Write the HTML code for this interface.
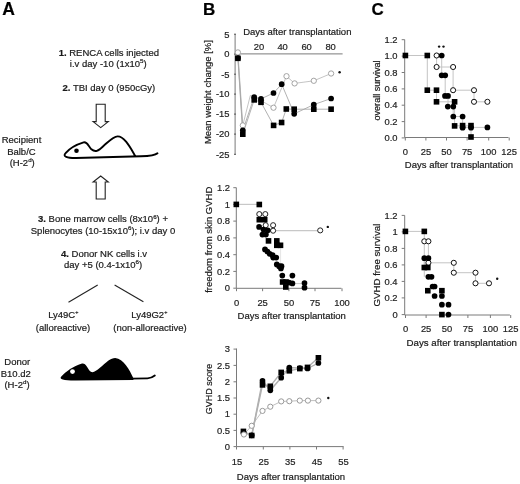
<!DOCTYPE html>
<html><head><meta charset="utf-8"><style>
html,body{margin:0;padding:0;background:#fff;}
body{width:520px;height:484px;overflow:hidden;}
svg{display:block;filter:blur(0.3px);font-family:"Liberation Sans",sans-serif;}
text{stroke:currentColor;stroke-width:0.2px;paint-order:stroke;}
</style></head><body>
<svg width="520" height="484" viewBox="0 0 520 484">
<rect width="520" height="484" fill="#fff"/>
<text x="2.3" y="15.0" font-size="17.5" text-anchor="start" font-weight="bold" fill="#000" style="color:#000" >A</text>
<text x="203.0" y="14.5" font-size="17.0" text-anchor="start" font-weight="bold" fill="#000" style="color:#000" >B</text>
<text x="371.5" y="14.6" font-size="17.0" text-anchor="start" font-weight="bold" fill="#000" style="color:#000" >C</text>
<text x="108.85" y="55.6" font-size="9.5" text-anchor="middle" font-weight="normal" fill="#1a1a1a" style="color:#1a1a1a" ><tspan font-weight="bold">1.</tspan> RENCA cells injected</text>
<text x="108.3" y="66.6" font-size="9.5" text-anchor="middle" font-weight="normal" fill="#1a1a1a" style="color:#1a1a1a" >i.v day -10 (1x10<tspan dy="-3.4" font-size="6.2">5</tspan><tspan dy="3.4">)</tspan></text>
<text x="108.9" y="91.2" font-size="9.5" text-anchor="middle" font-weight="normal" fill="#1a1a1a" style="color:#1a1a1a" ><tspan font-weight="bold">2.</tspan> TBI day 0 (950cGy)</text>
<path d="M96.2,104.2 L105.2,104.2 L105.2,121.6 L108.3,121.6 L100.7,127.6 L93.1,121.6 L96.2,121.6 Z" fill="#fff" stroke="#222" stroke-width="1.1" stroke-linejoin="miter"/>
<path d="M96.2,199.0 L105.2,199.0 L105.2,182.0 L108.3,182.0 L100.7,176.0 L93.1,182.0 L96.2,182.0 Z" fill="#fff" stroke="#222" stroke-width="1.1" stroke-linejoin="miter"/>
<path d="M157.5,153.3 C155,155.6 151,156.1 141,156.3 L76,158.0 C67,158.1 62.4,156.5 65.6,153.2 C69.5,148.5 77,144.4 83.6,142.4 C87.2,141.4 88.4,146.3 91.4,149.3 C95.3,152.6 98.2,151 103.2,146.2 C109,141.3 113,136.6 117.6,136.4 C124.5,136.3 130.5,148 135.4,156.2" fill="none" stroke="#000" stroke-width="1.9" stroke-linecap="round" stroke-linejoin="round"/>
<circle cx="76.5" cy="150.7" r="2.3" fill="#000"/>
<text x="21.5" y="143.4" font-size="9.5" text-anchor="middle" font-weight="normal" fill="#1a1a1a" style="color:#1a1a1a" >Recipient</text>
<text x="21.4" y="154.7" font-size="9.5" text-anchor="middle" font-weight="normal" fill="#1a1a1a" style="color:#1a1a1a" >Balb/C</text>
<text x="22.2" y="165.6" font-size="9.5" text-anchor="middle" font-weight="normal" fill="#1a1a1a" style="color:#1a1a1a" >(H-2<tspan dy="-3.4" font-size="6.2">d</tspan><tspan dy="3.4">)</tspan></text>
<text x="103.0" y="222.2" font-size="9.5" text-anchor="middle" font-weight="normal" fill="#1a1a1a" style="color:#1a1a1a" ><tspan font-weight="bold">3.</tspan> Bone marrow cells (8x10<tspan dy="-3.4" font-size="6.2">6</tspan><tspan dy="3.4">) +</tspan></text>
<text x="103.0" y="233.6" font-size="9.5" text-anchor="middle" font-weight="normal" fill="#1a1a1a" style="color:#1a1a1a" >Splenocytes (10-15x10<tspan dy="-3.4" font-size="6.2">6</tspan><tspan dy="3.4">); i.v day 0</tspan></text>
<text x="104.0" y="256.5" font-size="9.5" text-anchor="middle" font-weight="normal" fill="#1a1a1a" style="color:#1a1a1a" ><tspan font-weight="bold">4.</tspan> Donor NK cells i.v</text>
<text x="103.1" y="267.6" font-size="9.5" text-anchor="middle" font-weight="normal" fill="#1a1a1a" style="color:#1a1a1a" >day +5 (0.4-1x10<tspan dy="-3.4" font-size="6.2">6</tspan><tspan dy="3.4">)</tspan></text>
<line x1="68.5" y1="302.2" x2="97.7" y2="285.0" stroke="#222" stroke-width="1.1"/>
<line x1="114.6" y1="285.0" x2="143.4" y2="301.8" stroke="#222" stroke-width="1.1"/>
<text x="63.3" y="317.8" font-size="9.5" text-anchor="middle" font-weight="normal" fill="#1a1a1a" style="color:#1a1a1a" >Ly49C<tspan dy="-3.4" font-size="5.5">+</tspan><tspan dy="3.4"></tspan></text>
<text x="63.0" y="330.9" font-size="9.5" text-anchor="middle" font-weight="normal" fill="#1a1a1a" style="color:#1a1a1a" >(alloreactive)</text>
<text x="149.3" y="317.8" font-size="9.5" text-anchor="middle" font-weight="normal" fill="#1a1a1a" style="color:#1a1a1a" >Ly49G2<tspan dy="-3.4" font-size="5.5">+</tspan><tspan dy="3.4"></tspan></text>
<text x="150.0" y="330.9" font-size="9.5" text-anchor="middle" font-weight="normal" fill="#1a1a1a" style="color:#1a1a1a" >(non-alloreactive)</text>
<text x="17.3" y="365.4" font-size="9.5" text-anchor="middle" font-weight="normal" fill="#1a1a1a" style="color:#1a1a1a" >Donor</text>
<text x="15.8" y="376.8" font-size="9.5" text-anchor="middle" font-weight="normal" fill="#1a1a1a" style="color:#1a1a1a" >B10.d2</text>
<text x="17.0" y="387.8" font-size="9.5" text-anchor="middle" font-weight="normal" fill="#1a1a1a" style="color:#1a1a1a" >(H-2<tspan dy="-3.4" font-size="6.2">d</tspan><tspan dy="3.4">)</tspan></text>
<path d="M61.3,376.6 C65.5,371.5 74,365.8 81.3,363.7 C84,363.0 85.3,364.3 86.8,366.6 C88.6,369.5 90,372.2 92.5,372.2 C96.5,372 103,364.8 108.5,360.6 C110.8,359 113,358.1 115.2,358.1 C123.5,358.5 129.5,370 133.4,378.2 L133.4,380.0 L76,380.6 C64,380.7 58.5,379.4 61.3,376.6 Z" fill="#000"/>
<path d="M132,378.6 L147.5,378.4 C150.5,378.3 152.8,377.2 154.8,375.6" fill="none" stroke="#000" stroke-width="1.9" stroke-linecap="round"/>
<circle cx="72.5" cy="371.6" r="2.4" fill="#fff"/>
<line x1="235.1" y1="34.0" x2="235.1" y2="154.6" stroke="#7a7a7a" stroke-width="1.0"/>
<line x1="235.1" y1="53.9" x2="342.6" y2="53.9" stroke="#7a7a7a" stroke-width="1.0"/>
<text x="229.5" y="37.5" font-size="9.4" text-anchor="end" font-weight="normal" fill="#222" style="color:#222" >5</text>
<line x1="234.0" y1="34.2" x2="236.0" y2="34.2" stroke="#555" stroke-width="1.0"/>
<text x="229.5" y="57.4" font-size="9.4" text-anchor="end" font-weight="normal" fill="#222" style="color:#222" >0</text>
<line x1="234.0" y1="54.1" x2="236.0" y2="54.1" stroke="#555" stroke-width="1.0"/>
<text x="229.5" y="77.5" font-size="9.4" text-anchor="end" font-weight="normal" fill="#222" style="color:#222" >-5</text>
<line x1="234.0" y1="74.2" x2="236.0" y2="74.2" stroke="#555" stroke-width="1.0"/>
<text x="229.5" y="97.39999999999999" font-size="9.4" text-anchor="end" font-weight="normal" fill="#222" style="color:#222" >-10</text>
<line x1="234.0" y1="94.1" x2="236.0" y2="94.1" stroke="#555" stroke-width="1.0"/>
<text x="229.5" y="117.39999999999999" font-size="9.4" text-anchor="end" font-weight="normal" fill="#222" style="color:#222" >-15</text>
<line x1="234.0" y1="114.1" x2="236.0" y2="114.1" stroke="#555" stroke-width="1.0"/>
<text x="229.5" y="137.4" font-size="9.4" text-anchor="end" font-weight="normal" fill="#222" style="color:#222" >-20</text>
<line x1="234.0" y1="134.1" x2="236.0" y2="134.1" stroke="#555" stroke-width="1.0"/>
<text x="229.5" y="157.60000000000002" font-size="9.4" text-anchor="end" font-weight="normal" fill="#222" style="color:#222" >-25</text>
<line x1="234.0" y1="154.3" x2="236.0" y2="154.3" stroke="#555" stroke-width="1.0"/>
<text x="258.9" y="50.2" font-size="9.4" text-anchor="middle" font-weight="normal" fill="#222" style="color:#222" >20</text>
<text x="282.6" y="50.2" font-size="9.4" text-anchor="middle" font-weight="normal" fill="#222" style="color:#222" >40</text>
<text x="306.6" y="50.2" font-size="9.4" text-anchor="middle" font-weight="normal" fill="#222" style="color:#222" >60</text>
<text x="330.6" y="50.2" font-size="9.4" text-anchor="middle" font-weight="normal" fill="#222" style="color:#222" >80</text>
<text x="297.3" y="35.0" font-size="9.5" text-anchor="middle" font-weight="normal" fill="#1a1a1a" style="color:#1a1a1a" >Days after transplantation</text>
<text x="0" y="0" font-size="9.5" text-anchor="middle" fill="#1a1a1a" style="color:#1a1a1a" transform="translate(210.8,92.1) rotate(-90)">Mean weight change [%]</text>
<path d="M237.9,52.4 L242.8,125.4 L250.3,95.5 L261.0,100.6 L273.5,107.7 L286.5,76.2 L294.6,83.4 L313.8,80.8 L331.1,73.5" fill="none" stroke="#bdbdbd" stroke-width="0.9"/>
<path d="M238.0,58.0 L242.8,130.3 L254.2,97.0 L261.0,98.9 L273.5,93.0 L281.7,84.2 L294.2,113.8 L313.8,104.6 L331.1,98.5" fill="none" stroke="#a8a8a8" stroke-width="0.9"/>
<path d="M237.9,58.3 L242.8,134.2 L254.2,99.9 L261.0,102.3 L273.6,125.4 L281.6,122.5 L286.3,109.0 L294.2,109.2 L313.8,109.2 L331.1,109.2" fill="none" stroke="#a8a8a8" stroke-width="0.9"/>
<circle cx="237.9" cy="52.4" r="2.65" fill="#fff" stroke="#9a9a9a" stroke-width="0.9"/>
<circle cx="242.8" cy="125.4" r="2.65" fill="#fff" stroke="#9a9a9a" stroke-width="0.9"/>
<circle cx="261.0" cy="100.6" r="2.65" fill="#fff" stroke="#9a9a9a" stroke-width="0.9"/>
<circle cx="273.5" cy="107.7" r="2.65" fill="#fff" stroke="#9a9a9a" stroke-width="0.9"/>
<circle cx="286.5" cy="76.2" r="2.65" fill="#fff" stroke="#9a9a9a" stroke-width="0.9"/>
<circle cx="294.6" cy="83.4" r="2.65" fill="#fff" stroke="#9a9a9a" stroke-width="0.9"/>
<circle cx="313.8" cy="80.8" r="2.65" fill="#fff" stroke="#9a9a9a" stroke-width="0.9"/>
<circle cx="331.1" cy="73.5" r="2.65" fill="#fff" stroke="#9a9a9a" stroke-width="0.9"/>
<circle cx="238.0" cy="58.0" r="2.85" fill="#000"/>
<circle cx="242.8" cy="130.3" r="2.85" fill="#000"/>
<circle cx="254.2" cy="97.0" r="2.85" fill="#000"/>
<circle cx="261.0" cy="98.9" r="2.85" fill="#000"/>
<circle cx="273.5" cy="93.0" r="2.85" fill="#000"/>
<circle cx="281.7" cy="84.2" r="2.85" fill="#000"/>
<circle cx="294.2" cy="113.8" r="2.85" fill="#000"/>
<circle cx="313.8" cy="104.6" r="2.85" fill="#000"/>
<circle cx="331.1" cy="98.5" r="2.85" fill="#000"/>
<rect x="235.10" y="55.50" width="5.6" height="5.6" fill="#000"/>
<rect x="240.00" y="131.40" width="5.6" height="5.6" fill="#000"/>
<rect x="251.40" y="97.10" width="5.6" height="5.6" fill="#000"/>
<rect x="258.20" y="99.50" width="5.6" height="5.6" fill="#000"/>
<rect x="270.80" y="122.60" width="5.6" height="5.6" fill="#000"/>
<rect x="278.80" y="119.70" width="5.6" height="5.6" fill="#000"/>
<rect x="283.50" y="106.20" width="5.6" height="5.6" fill="#000"/>
<rect x="291.40" y="106.40" width="5.6" height="5.6" fill="#000"/>
<rect x="311.00" y="106.40" width="5.6" height="5.6" fill="#000"/>
<rect x="328.30" y="106.40" width="5.6" height="5.6" fill="#000"/>
<circle cx="339.6" cy="72.2" r="1.2" fill="#111"/>
<line x1="236.3" y1="187.6" x2="236.3" y2="288.3" stroke="#7a7a7a" stroke-width="1.0"/>
<line x1="236.3" y1="288.3" x2="341.4" y2="288.3" stroke="#7a7a7a" stroke-width="1.0"/>
<text x="230.0" y="190.89999999999998" font-size="9.4" text-anchor="end" font-weight="normal" fill="#222" style="color:#222" >1.2</text>
<line x1="233.3" y1="187.7" x2="236.3" y2="187.7" stroke="#7a7a7a" stroke-width="1.0"/>
<text x="230.0" y="207.6" font-size="9.4" text-anchor="end" font-weight="normal" fill="#222" style="color:#222" >1</text>
<line x1="233.3" y1="204.4" x2="236.3" y2="204.4" stroke="#7a7a7a" stroke-width="1.0"/>
<text x="230.0" y="224.29999999999998" font-size="9.4" text-anchor="end" font-weight="normal" fill="#222" style="color:#222" >0.8</text>
<line x1="233.3" y1="221.1" x2="236.3" y2="221.1" stroke="#7a7a7a" stroke-width="1.0"/>
<text x="230.0" y="241.1" font-size="9.4" text-anchor="end" font-weight="normal" fill="#222" style="color:#222" >0.6</text>
<line x1="233.3" y1="237.9" x2="236.3" y2="237.9" stroke="#7a7a7a" stroke-width="1.0"/>
<text x="230.0" y="257.9" font-size="9.4" text-anchor="end" font-weight="normal" fill="#222" style="color:#222" >0.4</text>
<line x1="233.3" y1="254.7" x2="236.3" y2="254.7" stroke="#7a7a7a" stroke-width="1.0"/>
<text x="230.0" y="274.59999999999997" font-size="9.4" text-anchor="end" font-weight="normal" fill="#222" style="color:#222" >0.2</text>
<line x1="233.3" y1="271.4" x2="236.3" y2="271.4" stroke="#7a7a7a" stroke-width="1.0"/>
<text x="230.0" y="291.4" font-size="9.4" text-anchor="end" font-weight="normal" fill="#222" style="color:#222" >0</text>
<line x1="233.3" y1="288.2" x2="236.3" y2="288.2" stroke="#7a7a7a" stroke-width="1.0"/>
<text x="236.5" y="305.9" font-size="9.4" text-anchor="middle" font-weight="normal" fill="#222" style="color:#222" >0</text>
<line x1="236.5" y1="288.3" x2="236.5" y2="291.2" stroke="#7a7a7a" stroke-width="1.0"/>
<text x="262.6" y="305.9" font-size="9.4" text-anchor="middle" font-weight="normal" fill="#222" style="color:#222" >25</text>
<line x1="262.6" y1="288.3" x2="262.6" y2="291.2" stroke="#7a7a7a" stroke-width="1.0"/>
<text x="288.9" y="305.9" font-size="9.4" text-anchor="middle" font-weight="normal" fill="#222" style="color:#222" >50</text>
<line x1="288.9" y1="288.3" x2="288.9" y2="291.2" stroke="#7a7a7a" stroke-width="1.0"/>
<text x="315.0" y="305.9" font-size="9.4" text-anchor="middle" font-weight="normal" fill="#222" style="color:#222" >75</text>
<line x1="315.0" y1="288.3" x2="315.0" y2="291.2" stroke="#7a7a7a" stroke-width="1.0"/>
<text x="342.0" y="305.9" font-size="9.4" text-anchor="middle" font-weight="normal" fill="#222" style="color:#222" >100</text>
<line x1="342.0" y1="288.3" x2="342.0" y2="291.2" stroke="#7a7a7a" stroke-width="1.0"/>
<text x="291.7" y="319.3" font-size="9.5" text-anchor="middle" font-weight="normal" fill="#1a1a1a" style="color:#1a1a1a" >Days after transplantation</text>
<text x="0" y="0" font-size="9.5" text-anchor="middle" fill="#1a1a1a" style="color:#1a1a1a" transform="translate(212.2,239.8) rotate(-90)">freedom from skin GVHD</text>
<path d="M236.3,204.4 L259.3,204.4" fill="none" stroke="#c8c8c8" stroke-width="1.2"/>
<path d="M273.1,230.6 L320.2,230.6" fill="none" stroke="#c8c8c8" stroke-width="1.2"/>
<path d="M292.4,283.6 L304.5,283.6" fill="none" stroke="#c8c8c8" stroke-width="1.0"/>
<path d="M280.6,245.0 L280.6,268.0" fill="none" stroke="#dddddd" stroke-width="0.8"/>
<circle cx="259.3" cy="214.1" r="2.55" fill="#fff" stroke="#222" stroke-width="1.0"/>
<circle cx="265.3" cy="214.1" r="2.55" fill="#fff" stroke="#222" stroke-width="1.0"/>
<circle cx="265.7" cy="225.2" r="2.55" fill="#fff" stroke="#222" stroke-width="1.0"/>
<circle cx="273.1" cy="225.2" r="2.55" fill="#fff" stroke="#222" stroke-width="1.0"/>
<circle cx="273.1" cy="230.7" r="2.55" fill="#fff" stroke="#222" stroke-width="1.0"/>
<circle cx="320.2" cy="230.4" r="2.55" fill="#fff" stroke="#222" stroke-width="1.0"/>
<circle cx="259.1" cy="226.9" r="2.85" fill="#000"/>
<circle cx="263.5" cy="229.5" r="2.85" fill="#000"/>
<circle cx="267.8" cy="230.3" r="2.85" fill="#000"/>
<circle cx="262.4" cy="234.6" r="2.85" fill="#000"/>
<circle cx="265.9" cy="234.6" r="2.85" fill="#000"/>
<circle cx="265.0" cy="249.4" r="2.85" fill="#000"/>
<circle cx="267.4" cy="251.5" r="2.85" fill="#000"/>
<circle cx="269.7" cy="253.8" r="2.85" fill="#000"/>
<circle cx="272.6" cy="255.2" r="2.85" fill="#000"/>
<circle cx="273.2" cy="257.6" r="2.85" fill="#000"/>
<circle cx="276.2" cy="257.6" r="2.85" fill="#000"/>
<circle cx="276.8" cy="264.4" r="2.85" fill="#000"/>
<circle cx="279.1" cy="266.2" r="2.85" fill="#000"/>
<circle cx="281.5" cy="266.2" r="2.85" fill="#000"/>
<circle cx="280.9" cy="268.5" r="2.85" fill="#000"/>
<circle cx="282.3" cy="275.6" r="2.85" fill="#000"/>
<circle cx="292.4" cy="275.6" r="2.85" fill="#000"/>
<circle cx="289.1" cy="282.6" r="2.85" fill="#000"/>
<circle cx="292.4" cy="283.4" r="2.85" fill="#000"/>
<circle cx="304.5" cy="283.1" r="2.85" fill="#000"/>
<circle cx="304.5" cy="287.7" r="2.85" fill="#000"/>
<rect x="233.50" y="201.60" width="5.6" height="5.6" fill="#000"/>
<rect x="256.50" y="201.70" width="5.6" height="5.6" fill="#000"/>
<rect x="256.50" y="216.90" width="5.6" height="5.6" fill="#000"/>
<rect x="261.90" y="216.90" width="5.6" height="5.6" fill="#000"/>
<rect x="265.70" y="238.10" width="5.6" height="5.6" fill="#000"/>
<rect x="274.00" y="238.10" width="5.6" height="5.6" fill="#000"/>
<rect x="274.00" y="242.50" width="5.6" height="5.6" fill="#000"/>
<rect x="277.70" y="242.50" width="5.6" height="5.6" fill="#000"/>
<rect x="279.80" y="279.20" width="5.6" height="5.6" fill="#000"/>
<rect x="283.20" y="279.20" width="5.6" height="5.6" fill="#000"/>
<rect x="283.00" y="284.20" width="5.6" height="5.6" fill="#000"/>
<circle cx="327.8" cy="226.9" r="1.2" fill="#111"/>
<line x1="236.5" y1="348.5" x2="236.5" y2="446.6" stroke="#7a7a7a" stroke-width="1.0"/>
<line x1="236.5" y1="446.6" x2="343.6" y2="446.6" stroke="#7a7a7a" stroke-width="1.0"/>
<text x="230.0" y="352.3" font-size="9.4" text-anchor="end" font-weight="normal" fill="#222" style="color:#222" >3</text>
<line x1="233.5" y1="349.1" x2="236.5" y2="349.1" stroke="#7a7a7a" stroke-width="1.0"/>
<text x="230.0" y="368.59999999999997" font-size="9.4" text-anchor="end" font-weight="normal" fill="#222" style="color:#222" >2.5</text>
<line x1="233.5" y1="365.4" x2="236.5" y2="365.4" stroke="#7a7a7a" stroke-width="1.0"/>
<text x="230.0" y="385.0" font-size="9.4" text-anchor="end" font-weight="normal" fill="#222" style="color:#222" >2</text>
<line x1="233.5" y1="381.8" x2="236.5" y2="381.8" stroke="#7a7a7a" stroke-width="1.0"/>
<text x="230.0" y="401.2" font-size="9.4" text-anchor="end" font-weight="normal" fill="#222" style="color:#222" >1.5</text>
<line x1="233.5" y1="398.0" x2="236.5" y2="398.0" stroke="#7a7a7a" stroke-width="1.0"/>
<text x="230.0" y="417.4" font-size="9.4" text-anchor="end" font-weight="normal" fill="#222" style="color:#222" >1</text>
<line x1="233.5" y1="414.2" x2="236.5" y2="414.2" stroke="#7a7a7a" stroke-width="1.0"/>
<text x="230.0" y="433.59999999999997" font-size="9.4" text-anchor="end" font-weight="normal" fill="#222" style="color:#222" >0.5</text>
<line x1="233.5" y1="430.4" x2="236.5" y2="430.4" stroke="#7a7a7a" stroke-width="1.0"/>
<text x="230.0" y="449.8" font-size="9.4" text-anchor="end" font-weight="normal" fill="#222" style="color:#222" >0</text>
<line x1="233.5" y1="446.6" x2="236.5" y2="446.6" stroke="#7a7a7a" stroke-width="1.0"/>
<text x="236.9" y="464.8" font-size="9.4" text-anchor="middle" font-weight="normal" fill="#222" style="color:#222" >15</text>
<line x1="236.5" y1="446.6" x2="236.5" y2="449.5" stroke="#7a7a7a" stroke-width="1.0"/>
<text x="263.7" y="464.8" font-size="9.4" text-anchor="middle" font-weight="normal" fill="#222" style="color:#222" >25</text>
<line x1="263.3" y1="446.6" x2="263.3" y2="449.5" stroke="#7a7a7a" stroke-width="1.0"/>
<text x="290.29999999999995" y="464.8" font-size="9.4" text-anchor="middle" font-weight="normal" fill="#222" style="color:#222" >35</text>
<line x1="289.9" y1="446.6" x2="289.9" y2="449.5" stroke="#7a7a7a" stroke-width="1.0"/>
<text x="316.9" y="464.8" font-size="9.4" text-anchor="middle" font-weight="normal" fill="#222" style="color:#222" >45</text>
<line x1="316.5" y1="446.6" x2="316.5" y2="449.5" stroke="#7a7a7a" stroke-width="1.0"/>
<text x="343.5" y="464.8" font-size="9.4" text-anchor="middle" font-weight="normal" fill="#222" style="color:#222" >55</text>
<line x1="343.1" y1="446.6" x2="343.1" y2="449.5" stroke="#7a7a7a" stroke-width="1.0"/>
<text x="291.0" y="479.5" font-size="9.5" text-anchor="middle" font-weight="normal" fill="#1a1a1a" style="color:#1a1a1a" >Days after transplantation</text>
<text x="0" y="0" font-size="9.0" text-anchor="middle" fill="#1a1a1a" style="color:#1a1a1a" transform="translate(211.5,389.0) rotate(-90)">GVHD score</text>
<path d="M243.9,434.5 L251.7,425.8 L262.5,410.9 L270.3,406.7 L281.2,401.4 L289.3,401.2 L299.8,400.6 L307.9,400.6 L318.4,400.6" fill="none" stroke="#c0c0c0" stroke-width="1.0"/>
<path d="M243.6,432.5 L251.7,435.3 L262.5,380.9 L270.3,390.3 L281.2,377.7 L289.3,367.6 L299.8,368.0 L307.5,368.5 L318.4,363.0" fill="none" stroke="#b0b0b0" stroke-width="1.4"/>
<path d="M243.4,431.4 L251.7,435.5 L262.5,384.9 L270.3,386.3 L281.2,372.4 L289.3,370.8 L299.8,368.6 L307.5,367.4 L318.4,357.8" fill="none" stroke="#b0b0b0" stroke-width="1.4"/>
<circle cx="243.6" cy="432.5" r="2.85" fill="#000"/>
<circle cx="251.7" cy="435.3" r="2.85" fill="#000"/>
<circle cx="262.5" cy="380.9" r="2.85" fill="#000"/>
<circle cx="270.3" cy="390.3" r="2.85" fill="#000"/>
<circle cx="281.2" cy="377.7" r="2.85" fill="#000"/>
<circle cx="289.3" cy="367.6" r="2.85" fill="#000"/>
<circle cx="299.8" cy="368.0" r="2.85" fill="#000"/>
<circle cx="307.5" cy="368.5" r="2.85" fill="#000"/>
<circle cx="318.4" cy="363.0" r="2.85" fill="#000"/>
<rect x="240.60" y="428.60" width="5.6" height="5.6" fill="#000"/>
<rect x="248.90" y="432.70" width="5.6" height="5.6" fill="#000"/>
<rect x="259.70" y="382.10" width="5.6" height="5.6" fill="#000"/>
<rect x="267.50" y="383.50" width="5.6" height="5.6" fill="#000"/>
<rect x="278.40" y="369.60" width="5.6" height="5.6" fill="#000"/>
<rect x="286.50" y="368.00" width="5.6" height="5.6" fill="#000"/>
<rect x="297.00" y="365.80" width="5.6" height="5.6" fill="#000"/>
<rect x="304.70" y="364.60" width="5.6" height="5.6" fill="#000"/>
<rect x="315.60" y="355.00" width="5.6" height="5.6" fill="#000"/>
<circle cx="243.9" cy="434.5" r="2.6" fill="#fff" stroke="#999" stroke-width="1.0"/>
<circle cx="251.7" cy="425.8" r="2.6" fill="#fff" stroke="#999" stroke-width="1.0"/>
<circle cx="262.5" cy="410.9" r="2.6" fill="#fff" stroke="#999" stroke-width="1.0"/>
<circle cx="270.3" cy="406.7" r="2.6" fill="#fff" stroke="#999" stroke-width="1.0"/>
<circle cx="281.2" cy="401.4" r="2.6" fill="#fff" stroke="#999" stroke-width="1.0"/>
<circle cx="289.3" cy="401.2" r="2.6" fill="#fff" stroke="#999" stroke-width="1.0"/>
<circle cx="299.8" cy="400.6" r="2.6" fill="#fff" stroke="#999" stroke-width="1.0"/>
<circle cx="307.9" cy="400.6" r="2.6" fill="#fff" stroke="#999" stroke-width="1.0"/>
<circle cx="318.4" cy="400.6" r="2.6" fill="#fff" stroke="#999" stroke-width="1.0"/>
<circle cx="328.3" cy="398.0" r="1.2" fill="#111"/>
<line x1="404.7" y1="39.6" x2="404.7" y2="137.5" stroke="#7a7a7a" stroke-width="1.0"/>
<line x1="404.7" y1="137.5" x2="508.5" y2="137.5" stroke="#7a7a7a" stroke-width="1.0"/>
<text x="397.6" y="42.900000000000006" font-size="9.4" text-anchor="end" font-weight="normal" fill="#222" style="color:#222" >1.2</text>
<line x1="401.7" y1="39.7" x2="404.7" y2="39.7" stroke="#7a7a7a" stroke-width="1.0"/>
<text x="397.6" y="59.300000000000004" font-size="9.4" text-anchor="end" font-weight="normal" fill="#222" style="color:#222" >1.0</text>
<line x1="401.7" y1="56.1" x2="404.7" y2="56.1" stroke="#7a7a7a" stroke-width="1.0"/>
<text x="397.6" y="75.7" font-size="9.4" text-anchor="end" font-weight="normal" fill="#222" style="color:#222" >0.8</text>
<line x1="401.7" y1="72.5" x2="404.7" y2="72.5" stroke="#7a7a7a" stroke-width="1.0"/>
<text x="397.6" y="92.10000000000001" font-size="9.4" text-anchor="end" font-weight="normal" fill="#222" style="color:#222" >0.6</text>
<line x1="401.7" y1="88.9" x2="404.7" y2="88.9" stroke="#7a7a7a" stroke-width="1.0"/>
<text x="397.6" y="108.4" font-size="9.4" text-anchor="end" font-weight="normal" fill="#222" style="color:#222" >0.4</text>
<line x1="401.7" y1="105.2" x2="404.7" y2="105.2" stroke="#7a7a7a" stroke-width="1.0"/>
<text x="397.6" y="124.8" font-size="9.4" text-anchor="end" font-weight="normal" fill="#222" style="color:#222" >0.2</text>
<line x1="401.7" y1="121.6" x2="404.7" y2="121.6" stroke="#7a7a7a" stroke-width="1.0"/>
<text x="397.6" y="141.1" font-size="9.4" text-anchor="end" font-weight="normal" fill="#222" style="color:#222" >0.0</text>
<line x1="401.7" y1="137.9" x2="404.7" y2="137.9" stroke="#7a7a7a" stroke-width="1.0"/>
<text x="405.3" y="155.3" font-size="9.4" text-anchor="middle" font-weight="normal" fill="#222" style="color:#222" >0</text>
<line x1="405.3" y1="137.5" x2="405.3" y2="140.5" stroke="#7a7a7a" stroke-width="1.0"/>
<text x="425.9" y="155.3" font-size="9.4" text-anchor="middle" font-weight="normal" fill="#222" style="color:#222" >25</text>
<line x1="425.9" y1="137.5" x2="425.9" y2="140.5" stroke="#7a7a7a" stroke-width="1.0"/>
<text x="446.5" y="155.3" font-size="9.4" text-anchor="middle" font-weight="normal" fill="#222" style="color:#222" >50</text>
<line x1="446.5" y1="137.5" x2="446.5" y2="140.5" stroke="#7a7a7a" stroke-width="1.0"/>
<text x="467.1" y="155.3" font-size="9.4" text-anchor="middle" font-weight="normal" fill="#222" style="color:#222" >75</text>
<line x1="467.1" y1="137.5" x2="467.1" y2="140.5" stroke="#7a7a7a" stroke-width="1.0"/>
<text x="488.7" y="155.3" font-size="9.4" text-anchor="middle" font-weight="normal" fill="#222" style="color:#222" >100</text>
<line x1="488.7" y1="137.5" x2="488.7" y2="140.5" stroke="#7a7a7a" stroke-width="1.0"/>
<text x="509.2" y="155.3" font-size="9.4" text-anchor="middle" font-weight="normal" fill="#222" style="color:#222" >125</text>
<line x1="509.2" y1="137.5" x2="509.2" y2="140.5" stroke="#7a7a7a" stroke-width="1.0"/>
<text x="459.0" y="168.0" font-size="9.5" text-anchor="middle" font-weight="normal" fill="#1a1a1a" style="color:#1a1a1a" >Days after transplantation</text>
<text x="0" y="0" font-size="9.1" text-anchor="middle" fill="#1a1a1a" style="color:#1a1a1a" transform="translate(380.2,90.5) rotate(-90)">overall survival</text>
<path d="M405.4,55.5 L427.3,55.5" fill="none" stroke="#c4c4c4" stroke-width="1.0"/>
<path d="M427.3,55.5 L427.3,90.2 L436.5,90.2 L436.5,101.8 L454.6,101.8" fill="none" stroke="#c4c4c4" stroke-width="1.0"/>
<path d="M436.6,55.5 L436.6,67.0 L453.1,67.0 L453.1,90.2 L474.0,90.2 L474.0,101.8 L487.4,101.8" fill="none" stroke="#c4c4c4" stroke-width="1.0"/>
<path d="M441.7,55.5 L441.7,75.3 L445.2,75.3 L445.2,95.9 L448.0,95.9 L448.0,106.6 L453.2,106.6 L453.2,116.5 L462.6,116.5 L462.6,127.4 L487.4,127.4" fill="none" stroke="#c4c4c4" stroke-width="1.0"/>
<path d="M454.6,101.8 L454.6,125.8 L471.0,125.8 L471.0,137.0" fill="none" stroke="#c4c4c4" stroke-width="1.0"/>
<circle cx="436.6" cy="55.5" r="2.55" fill="#fff" stroke="#111" stroke-width="1.0"/>
<circle cx="436.6" cy="67.0" r="2.55" fill="#fff" stroke="#111" stroke-width="1.0"/>
<circle cx="453.1" cy="67.0" r="2.55" fill="#fff" stroke="#111" stroke-width="1.0"/>
<circle cx="453.1" cy="90.2" r="2.55" fill="#fff" stroke="#111" stroke-width="1.0"/>
<circle cx="474.0" cy="90.2" r="2.55" fill="#fff" stroke="#111" stroke-width="1.0"/>
<circle cx="474.0" cy="101.8" r="2.55" fill="#fff" stroke="#111" stroke-width="1.0"/>
<circle cx="487.4" cy="101.8" r="2.55" fill="#fff" stroke="#111" stroke-width="1.0"/>
<circle cx="441.7" cy="55.5" r="2.85" fill="#000"/>
<circle cx="441.7" cy="75.3" r="2.85" fill="#000"/>
<circle cx="445.2" cy="75.3" r="2.85" fill="#000"/>
<circle cx="445.0" cy="95.9" r="2.85" fill="#000"/>
<circle cx="448.0" cy="95.9" r="2.85" fill="#000"/>
<circle cx="447.8" cy="106.6" r="2.85" fill="#000"/>
<circle cx="453.3" cy="106.6" r="2.85" fill="#000"/>
<circle cx="453.3" cy="116.5" r="2.85" fill="#000"/>
<circle cx="462.6" cy="116.5" r="2.85" fill="#000"/>
<circle cx="462.6" cy="127.7" r="2.85" fill="#000"/>
<circle cx="471.0" cy="127.7" r="2.85" fill="#000"/>
<circle cx="487.4" cy="127.4" r="2.85" fill="#000"/>
<rect x="402.60" y="52.70" width="5.6" height="5.6" fill="#000"/>
<rect x="424.50" y="52.70" width="5.6" height="5.6" fill="#000"/>
<rect x="424.50" y="87.40" width="5.6" height="5.6" fill="#000"/>
<rect x="433.70" y="87.40" width="5.6" height="5.6" fill="#000"/>
<rect x="433.70" y="99.00" width="5.6" height="5.6" fill="#000"/>
<rect x="451.80" y="99.00" width="5.6" height="5.6" fill="#000"/>
<rect x="451.80" y="123.10" width="5.6" height="5.6" fill="#000"/>
<rect x="459.80" y="122.80" width="5.6" height="5.6" fill="#000"/>
<rect x="468.20" y="122.80" width="5.6" height="5.6" fill="#000"/>
<rect x="468.20" y="134.20" width="5.6" height="5.6" fill="#000"/>
<circle cx="439.1" cy="46.6" r="1.2" fill="#111"/>
<circle cx="443.5" cy="46.6" r="1.2" fill="#111"/>
<line x1="404.7" y1="215.4" x2="404.7" y2="315.0" stroke="#7a7a7a" stroke-width="1.0"/>
<line x1="404.7" y1="315.0" x2="509.9" y2="315.0" stroke="#7a7a7a" stroke-width="1.0"/>
<text x="397.6" y="218.6" font-size="9.4" text-anchor="end" font-weight="normal" fill="#222" style="color:#222" >1.2</text>
<line x1="401.7" y1="215.4" x2="404.7" y2="215.4" stroke="#7a7a7a" stroke-width="1.0"/>
<text x="397.6" y="235.1" font-size="9.4" text-anchor="end" font-weight="normal" fill="#222" style="color:#222" >1</text>
<line x1="401.7" y1="231.9" x2="404.7" y2="231.9" stroke="#7a7a7a" stroke-width="1.0"/>
<text x="397.6" y="251.6" font-size="9.4" text-anchor="end" font-weight="normal" fill="#222" style="color:#222" >0.8</text>
<line x1="401.7" y1="248.4" x2="404.7" y2="248.4" stroke="#7a7a7a" stroke-width="1.0"/>
<text x="397.6" y="268.09999999999997" font-size="9.4" text-anchor="end" font-weight="normal" fill="#222" style="color:#222" >0.6</text>
<line x1="401.7" y1="264.9" x2="404.7" y2="264.9" stroke="#7a7a7a" stroke-width="1.0"/>
<text x="397.6" y="284.59999999999997" font-size="9.4" text-anchor="end" font-weight="normal" fill="#222" style="color:#222" >0.4</text>
<line x1="401.7" y1="281.4" x2="404.7" y2="281.4" stroke="#7a7a7a" stroke-width="1.0"/>
<text x="397.6" y="301.09999999999997" font-size="9.4" text-anchor="end" font-weight="normal" fill="#222" style="color:#222" >0.2</text>
<line x1="401.7" y1="297.9" x2="404.7" y2="297.9" stroke="#7a7a7a" stroke-width="1.0"/>
<text x="397.6" y="317.8" font-size="9.4" text-anchor="end" font-weight="normal" fill="#222" style="color:#222" >0</text>
<line x1="401.7" y1="314.6" x2="404.7" y2="314.6" stroke="#7a7a7a" stroke-width="1.0"/>
<text x="405.5" y="332.4" font-size="9.4" text-anchor="middle" font-weight="normal" fill="#222" style="color:#222" >0</text>
<line x1="405.5" y1="315.0" x2="405.5" y2="318.0" stroke="#7a7a7a" stroke-width="1.0"/>
<text x="426.1" y="332.4" font-size="9.4" text-anchor="middle" font-weight="normal" fill="#222" style="color:#222" >25</text>
<line x1="426.1" y1="315.0" x2="426.1" y2="318.0" stroke="#7a7a7a" stroke-width="1.0"/>
<text x="446.9" y="332.4" font-size="9.4" text-anchor="middle" font-weight="normal" fill="#222" style="color:#222" >50</text>
<line x1="446.9" y1="315.0" x2="446.9" y2="318.0" stroke="#7a7a7a" stroke-width="1.0"/>
<text x="467.9" y="332.4" font-size="9.4" text-anchor="middle" font-weight="normal" fill="#222" style="color:#222" >75</text>
<line x1="467.9" y1="315.0" x2="467.9" y2="318.0" stroke="#7a7a7a" stroke-width="1.0"/>
<text x="490.4" y="332.4" font-size="9.4" text-anchor="middle" font-weight="normal" fill="#222" style="color:#222" >100</text>
<line x1="490.4" y1="315.0" x2="490.4" y2="318.0" stroke="#7a7a7a" stroke-width="1.0"/>
<text x="510.7" y="332.4" font-size="9.4" text-anchor="middle" font-weight="normal" fill="#222" style="color:#222" >125</text>
<line x1="510.7" y1="315.0" x2="510.7" y2="318.0" stroke="#7a7a7a" stroke-width="1.0"/>
<text x="461.8" y="345.6" font-size="9.7" text-anchor="middle" font-weight="normal" fill="#1a1a1a" style="color:#1a1a1a" >Days after transplantation</text>
<text x="0" y="0" font-size="9.7" text-anchor="middle" fill="#1a1a1a" style="color:#1a1a1a" transform="translate(380.4,265.1) rotate(-90)">GVHD free survival</text>
<path d="M405.4,231.4 L424.3,231.4 L424.3,267.5" fill="none" stroke="#c4c4c4" stroke-width="1.0"/>
<path d="M428.4,241.3 L428.4,262.8 L453.8,262.8 L453.8,272.7 L475.5,272.7 L475.5,283.3 L489.0,283.3" fill="none" stroke="#c4c4c4" stroke-width="1.0"/>
<path d="M424.3,258.2 L424.3,276.8" fill="none" stroke="#c4c4c4" stroke-width="1.0"/>
<circle cx="424.3" cy="241.3" r="2.55" fill="#fff" stroke="#111" stroke-width="1.0"/>
<circle cx="428.4" cy="241.3" r="2.55" fill="#fff" stroke="#111" stroke-width="1.0"/>
<circle cx="428.4" cy="262.8" r="2.55" fill="#fff" stroke="#111" stroke-width="1.0"/>
<circle cx="453.8" cy="262.8" r="2.55" fill="#fff" stroke="#111" stroke-width="1.0"/>
<circle cx="453.8" cy="272.7" r="2.55" fill="#fff" stroke="#111" stroke-width="1.0"/>
<circle cx="475.5" cy="272.7" r="2.55" fill="#fff" stroke="#111" stroke-width="1.0"/>
<circle cx="475.5" cy="283.3" r="2.55" fill="#fff" stroke="#111" stroke-width="1.0"/>
<circle cx="489.0" cy="283.3" r="2.55" fill="#fff" stroke="#111" stroke-width="1.0"/>
<circle cx="424.3" cy="258.2" r="2.85" fill="#000"/>
<circle cx="428.4" cy="258.2" r="2.85" fill="#000"/>
<circle cx="428.4" cy="276.8" r="2.85" fill="#000"/>
<circle cx="431.5" cy="276.8" r="2.85" fill="#000"/>
<circle cx="432.6" cy="286.5" r="2.85" fill="#000"/>
<circle cx="434.6" cy="286.5" r="2.85" fill="#000"/>
<circle cx="434.6" cy="296.0" r="2.85" fill="#000"/>
<circle cx="441.9" cy="296.0" r="2.85" fill="#000"/>
<circle cx="441.9" cy="304.7" r="2.85" fill="#000"/>
<circle cx="448.5" cy="304.7" r="2.85" fill="#000"/>
<circle cx="448.5" cy="314.6" r="2.85" fill="#000"/>
<rect x="402.60" y="228.60" width="5.6" height="5.6" fill="#000"/>
<rect x="421.50" y="228.60" width="5.6" height="5.6" fill="#000"/>
<rect x="421.50" y="264.70" width="5.6" height="5.6" fill="#000"/>
<rect x="425.00" y="264.70" width="5.6" height="5.6" fill="#000"/>
<rect x="425.00" y="287.90" width="5.6" height="5.6" fill="#000"/>
<rect x="439.10" y="287.90" width="5.6" height="5.6" fill="#000"/>
<rect x="439.10" y="311.80" width="5.6" height="5.6" fill="#000"/>
<circle cx="497.2" cy="278.8" r="1.2" fill="#111"/>
</svg>
</body></html>
